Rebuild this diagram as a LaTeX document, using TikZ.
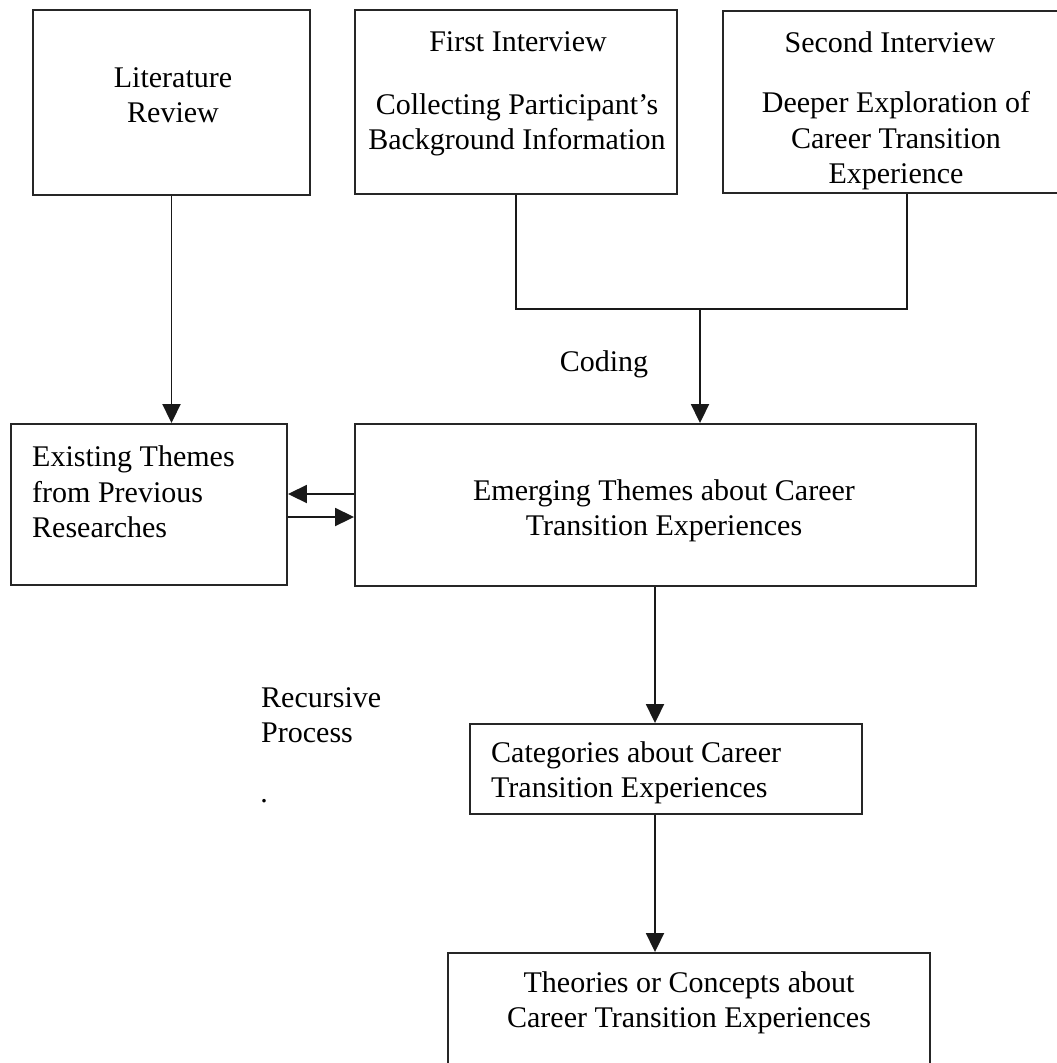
\documentclass[tikz,border=0pt]{standalone}
\usepackage{fontspec}
\setmainfont{Liberation Serif}
\usetikzlibrary{arrows.meta}
\begin{document}
\begin{tikzpicture}[x=1pt,y=-1pt,
  box/.style={draw=black!85,line width=1.9pt,fill=none},
  txt/.style={inner sep=0pt,font=\fontsize{30}{35.5}\selectfont},
  conn/.style={draw=black!90,line width=1.9pt},
  arr/.style={conn,-{Triangle[length=19pt,width=18pt]}}]
\useasboundingbox (0,0) rectangle (1057,1063);
% boxes
\node[box,minimum width=277pt,minimum height=185pt,inner sep=0pt] (lit) at (171.5,102.5) {};
\node[box,minimum width=322pt,minimum height=184pt,inner sep=0pt] (first) at (516,102) {};
\node[box,minimum width=368pt,minimum height=182pt,inner sep=0pt] (second) at (907,102) {};
\node[box,minimum width=276pt,minimum height=161pt,inner sep=0pt] (exist) at (149,504.5) {};
\node[box,minimum width=621pt,minimum height=162pt,inner sep=0pt] (emerg) at (665.5,505) {};
\node[box,minimum width=392pt,minimum height=90pt,inner sep=0pt] (categ) at (666,769) {};
\node[box,minimum width=482pt,minimum height=140pt,inner sep=0pt] (theory) at (689,1023) {};
% texts
\node[txt,align=center] (littxt) at (173,95) {Literature\\Review};
\node[txt] (firsttitle) at (518,42) {First Interview};
\node[txt,align=center] (firsttxt) at (517,125) {Collecting Participant’s\\Background Information};
\node[txt] (secondtitle) at (890,42) {Second Interview};
\node[txt,align=center] (secondtxt) at (896,141) {Deeper Exploration of\\Career Transition\\Experience};
\node[txt,align=left,anchor=west] (existtxt) at (32,492) {Existing Themes\\from Previous\\Researches};
\node[txt,align=center] (emergtxt) at (664,511) {Emerging Themes about Career\\Transition Experiences};
\node[txt,align=left,anchor=west] (categtxt) at (491,773) {Categories about Career\\Transition Experiences};
\node[txt,align=center] (theorytxt) at (689,1003) {Theories or Concepts about\\Career Transition Experiences};
\node[txt] (coding) at (604,364) {Coding};
\node[txt,align=left,anchor=west] (recur) at (261,715) {Recursive\\Process};
\node[txt,anchor=base] (dot) at (264,802) {.};
% connector coordinates
\coordinate (jl) at (516,309);
\coordinate (jr) at (907,309);
\coordinate (jm) at (700,309);
% connectors
\draw[arr] (lit.south) -- (lit.south |- exist.north);
\draw[conn] (first.south) -- (jl) -- (jr) -- (second.south);
\draw[arr] (jm) -- (jm |- emerg.north);
\draw[arr] (emerg.west |- 0,494) -- (exist.east |- 0,494);
\draw[arr] (exist.east |- 0,517) -- (emerg.west |- 0,517);
\draw[arr] (655,0 |- emerg.south) -- (655,0 |- categ.north);
\draw[arr] (655,0 |- categ.south) -- (655,0 |- theory.north);
\end{tikzpicture}
\end{document}
